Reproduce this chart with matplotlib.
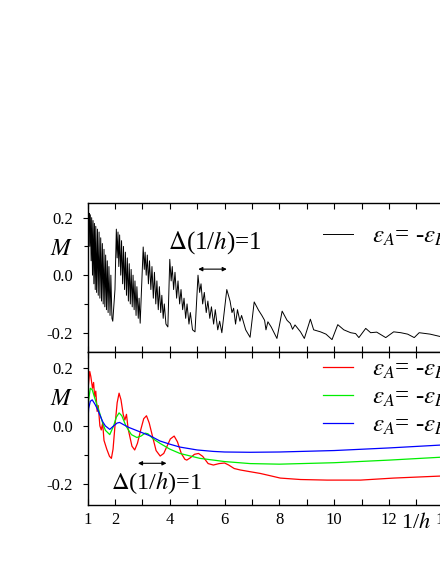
import numpy as np
import matplotlib
matplotlib.use('Agg')
import matplotlib.pyplot as plt
from matplotlib.ticker import MultipleLocator

plt.rcParams['font.family'] = ['Liberation Serif', 'DejaVu Serif']
plt.rcParams['mathtext.fontset'] = 'stix'
plt.rcParams['axes.unicode_minus'] = False

# ---- data ----
# upper panel, black curve (M vs 1/h)
top_x = [1.00, 1.02, 1.04, 1.06, 1.08, 1.10, 1.13, 1.15, 1.18, 1.20, 1.23, 1.25, 1.28, 1.30,
         1.33, 1.36, 1.39, 1.42, 1.45, 1.48, 1.51, 1.54, 1.57, 1.60, 1.63, 1.66, 1.69, 1.72,
         1.75, 1.78, 1.82, 1.85, 1.89, 1.92,
         2.00, 2.05, 2.08, 2.11, 2.14, 2.17, 2.21, 2.24, 2.28, 2.31, 2.35, 2.38, 2.42, 2.45,
         2.49, 2.52, 2.56, 2.59, 2.63, 2.66, 2.70, 2.73, 2.77, 2.80, 2.85, 2.88, 2.92,
         3.03, 3.07, 3.10, 3.14, 3.18, 3.22, 3.26, 3.31, 3.35, 3.40, 3.44, 3.49, 3.53, 3.58,
         3.62, 3.67, 3.71, 3.76, 3.80, 3.86, 3.93,
         4.00, 4.05, 4.09, 4.14, 4.19, 4.25, 4.30, 4.36, 4.41, 4.47, 4.52, 4.58, 4.63, 4.70,
         4.75, 4.83, 4.92,
         5.03, 5.09, 5.14, 5.20, 5.26, 5.33, 5.39, 5.46, 5.52, 5.60, 5.66, 5.75, 5.82, 5.90,
         6.08, 6.20, 6.27, 6.33, 6.40, 6.47, 6.56, 6.62, 6.77, 6.93,
         7.08, 7.24, 7.36, 7.46, 7.51, 7.58, 7.70, 7.79, 7.91,
         8.10, 8.28, 8.40, 8.48, 8.57, 8.77, 8.91,
         9.13, 9.25, 9.50, 9.70, 9.92,
         10.13, 10.35, 10.60, 10.78, 10.90,
         11.15, 11.33, 11.55, 11.88,
         12.17, 12.43, 12.68, 12.92,
         13.10, 13.50, 13.90, 14.10, 14.50, 14.90]
top_m = [0.19, 0.22, 0.17, 0.215, 0.10, 0.21, 0.05, 0.20, 0.00, 0.19, -0.03, 0.18, -0.05, 0.17,
         -0.06, 0.16, -0.07, 0.15, -0.08, 0.13, -0.09, 0.11, -0.10, 0.09, -0.11, 0.07, -0.12, 0.05,
         -0.13, 0.03, -0.14, 0.00, -0.15, -0.16,
         -0.05, 0.16, 0.06, 0.15, 0.03, 0.14, 0.00, 0.12, -0.03, 0.10, -0.05, 0.08, -0.07, 0.06,
         -0.09, 0.04, -0.10, 0.02, -0.11, 0.00, -0.12, -0.02, -0.14, -0.04, -0.15, -0.08, -0.167,
         0.098, 0.02, 0.08, 0.00, 0.07, -0.03, 0.05, -0.05, 0.03, -0.08, 0.01, -0.10, -0.02, -0.12,
         -0.04, -0.13, -0.07, -0.15, -0.10, -0.17, -0.18,
         0.055, -0.02, 0.03, -0.05, 0.01, -0.08, -0.02, -0.10, -0.05, -0.12, -0.08, -0.15, -0.10, -0.17,
         -0.13, -0.19, -0.197,
         0.00, -0.06, -0.03, -0.10, -0.06, -0.13, -0.09, -0.15, -0.11, -0.17, -0.12, -0.19, -0.16, -0.20,
         -0.05, -0.09, -0.13, -0.115, -0.17, -0.12, -0.16, -0.14, -0.19, -0.216,
         -0.093, -0.122, -0.14, -0.157, -0.19, -0.162, -0.18, -0.197, -0.22,
         -0.125, -0.157, -0.168, -0.188, -0.173, -0.197, -0.22,
         -0.153, -0.19, -0.197, -0.205, -0.224,
         -0.172, -0.19, -0.20, -0.203, -0.217,
         -0.185, -0.20, -0.198, -0.217,
         -0.197, -0.20, -0.205, -0.217,
         -0.20, -0.205, -0.214, -0.203, -0.207, -0.214]

# lower panel, three curves
red_x = [1.00, 1.03, 1.08, 1.12, 1.18, 1.22, 1.26, 1.30, 1.35, 1.39, 1.45, 1.50, 1.55, 1.60,
         1.70, 1.80, 1.87, 1.93, 2.00, 2.08, 2.15, 2.22, 2.30, 2.36, 2.42, 2.48, 2.55, 2.62,
         2.72, 2.82, 2.95, 3.05, 3.15, 3.25, 3.38, 3.50, 3.65, 3.78, 3.90, 4.02, 4.16, 4.28,
         4.42, 4.55, 4.62, 4.75, 4.90, 5.05, 5.20, 5.40, 5.59, 5.80, 6.00, 6.15, 6.35, 6.57,
         6.93, 7.30, 7.67, 8.03, 8.77, 9.74, 10.96, 12.17, 13.89, 15.00]
red_m = [0.00, 0.14, 0.188, 0.17, 0.13, 0.15, 0.10, 0.12, 0.05, 0.07, 0.00, -0.014, 0.01, -0.05,
         -0.08, -0.105, -0.112, -0.08, 0.00, 0.08, 0.113, 0.09, 0.04, 0.02, 0.04, -0.01, -0.04, -0.07,
         -0.083, -0.06, -0.01, 0.025, 0.035, 0.01, -0.04, -0.085, -0.104, -0.095, -0.07, -0.045, -0.035, -0.055,
         -0.095, -0.115, -0.118, -0.11, -0.098, -0.095, -0.105, -0.13, -0.135, -0.13, -0.128, -0.135, -0.147, -0.152,
         -0.158, -0.164, -0.172, -0.18, -0.185, -0.187, -0.187, -0.18, -0.173, -0.168]
green_x = [1.00, 1.04, 1.10, 1.17, 1.25, 1.35, 1.44, 1.55, 1.65, 1.81, 1.95, 2.05, 2.15, 2.25,
           2.40, 2.60, 2.80, 2.95, 3.10, 3.20, 3.40, 3.64, 4.00, 4.37, 4.80, 5.10, 5.60, 6.00,
           6.93, 8.00, 10.0, 12.0, 13.9, 15.0]
green_m = [0.00, 0.09, 0.13, 0.125, 0.10, 0.07, 0.045, 0.01, -0.015, -0.03, 0.00, 0.03, 0.045, 0.035,
           0.00, -0.03, -0.04, -0.035, -0.025, -0.027, -0.045, -0.06, -0.08, -0.095, -0.105, -0.112, -0.118, -0.123,
           -0.13, -0.132, -0.127, -0.118, -0.108, -0.103]
blue_x = [1.00, 1.04, 1.10, 1.17, 1.27, 1.35, 1.44, 1.55, 1.65, 1.81, 1.95, 2.08, 2.17, 2.30,
          2.50, 2.90, 3.30, 3.64, 4.00, 4.37, 5.00, 5.59, 6.00, 6.93, 8.00, 10.0, 12.0, 13.9, 15.0]
blue_m = [0.00, 0.06, 0.085, 0.09, 0.075, 0.06, 0.04, 0.015, 0.00, -0.012, 0.00, 0.01, 0.012, 0.005,
          -0.005, -0.02, -0.035, -0.052, -0.063, -0.073, -0.083, -0.088, -0.09, -0.091, -0.09, -0.085, -0.076, -0.066, -0.061]

x_ticks = [1, 2, 4, 6, 8, 10, 12, 14]
x_tick_labels = ['1', '2', '4', '6', '8', '10', '12', '14']
y_ticks = [-0.2, 0.0, 0.2]
y_tick_labels = ['-0.2', '0.0', '0.2']

top_label = r'$\varepsilon_A$= -$\varepsilon_B$= 0'
bottom_labels = [r'$\varepsilon_A$= -$\varepsilon_B$= 0.1',
                 r'$\varepsilon_A$= -$\varepsilon_B$= 0.2',
                 r'$\varepsilon_A$= -$\varepsilon_B$= 0.3']
delta_text = r'$\Delta$(1/$h$)=1'

fig = plt.figure(figsize=(4.4, 5.7), dpi=100)
ax1 = fig.add_axes([0.199, 0.3825, 0.872, 0.2614])
ax2 = fig.add_axes([0.199, 0.114, 0.872, 0.2684])

def style(ax, ylo, yhi, show_x):
    ax.set_xlim(1, 15)
    ax.set_ylim(ylo, yhi)
    ax.set_xticks(x_ticks)
    ax.xaxis.set_minor_locator(MultipleLocator(1))
    ax.set_yticks(y_ticks)
    ax.set_yticklabels(y_tick_labels)
    ax.yaxis.set_minor_locator(MultipleLocator(0.1))
    ax.tick_params(axis='x', which='both', direction='in', top=True, bottom=True,
                   length=4, width=0.8, labelsize=12, pad=5)
    ax.tick_params(axis='y', which='major', direction='out', length=3.5, width=0.8,
                   labelsize=12, pad=7)
    ax.tick_params(axis='y', which='minor', direction='out', length=3, width=0.8)
    if show_x:
        ax.set_xticklabels(x_tick_labels)
    else:
        ax.set_xticklabels([])
    for s in ax.spines.values():
        s.set_linewidth(1.0)
    ax.set_ylabel(r'$M$', fontsize=17, rotation=0, ha='center', va='center')
    ax.yaxis.set_label_coords(-0.067, 0.69)

style(ax1, -0.267, 0.251, False)
style(ax2, -0.273, 0.255, True)

ax1.plot(top_x, top_m, color='black', lw=0.7, label=top_label)
ax2.plot(red_x, red_m, color='#ff0000', lw=0.9, label=bottom_labels[0])
ax2.plot(green_x, green_m, color='#00ee00', lw=0.9, label=bottom_labels[1])
ax2.plot(blue_x, blue_m, color='#0000ff', lw=0.9, label=bottom_labels[2])

ax1.legend(loc='center left', bbox_to_anchor=(0.614, 0.778), frameon=False, fontsize=18,
           handlelength=1.2, handletextpad=0.76, borderpad=0, borderaxespad=0)
ax2.legend(loc='center left', bbox_to_anchor=(0.614, 0.705), frameon=False, fontsize=18,
           handlelength=1.2, handletextpad=0.76, borderpad=0, borderaxespad=0,
           labelspacing=0.15)

# period markers
ax1.text(3.93, 0.115, delta_text, fontsize=18, va='center', ha='left')
ax1.annotate('', xy=(6.08, 0.021), xytext=(5.04, 0.021),
             arrowprops=dict(arrowstyle='<|-|>', color='black', lw=0.8,
                             mutation_scale=6, shrinkA=0, shrinkB=0))
ax2.text(1.87, -0.197, delta_text, fontsize=17.5, va='center', ha='left')
ax2.annotate('', xy=(3.88, -0.129), xytext=(2.84, -0.129),
             arrowprops=dict(arrowstyle='<|-|>', color='black', lw=0.8,
                             mutation_scale=6, shrinkA=0, shrinkB=0))

ax2.text(13.0, -0.151, r'1/$h$', fontsize=16, ha='center', va='baseline',
         transform=ax2.get_xaxis_transform())

fig.savefig('out.png', dpi=100)
